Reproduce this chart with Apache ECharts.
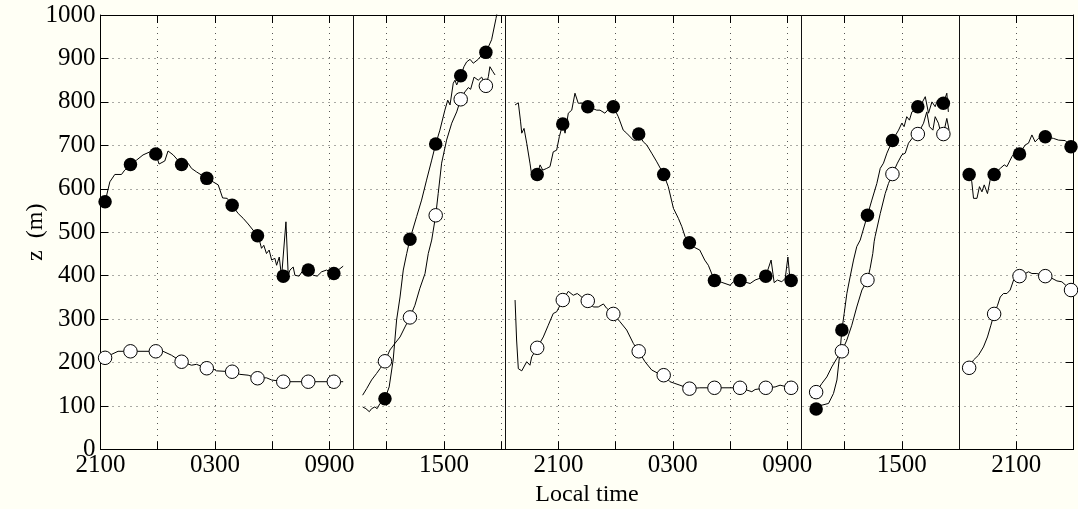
<!DOCTYPE html>
<html>
<head>
<meta charset="utf-8">
<script src="https://cdn.jsdelivr.net/npm/echarts@6/dist/echarts.min.js"></script>
<style>
  html, body { margin: 0; padding: 0; background: #fffff5; }
  #chart { width: 1078px; height: 509px; }
</style>
</head>
<body>
<div id="chart"></div>
<script>
// Time is in hours after 2100 local time on the first evening.
const timeLabels = ['2100', '0300', '0900', '1500', '2100', '0300', '0900', '1500', '2100'];
const dayBreaks = [13.25, 21.22, 36.71, 45.02];

// Segment 1: night
const traceHi1 = [[0.24,570],[0.49,616],[0.75,633],[1.10,633],[1.27,643],[1.57,656],[1.89,666],[2.23,678],[2.59,685],[2.90,680],[3.07,657],[3.37,664],[3.54,687],[3.81,678],[4.25,656],[4.59,659],[4.77,647],[5.03,639],[5.57,624],[5.90,616],[6.17,609],[6.40,579],[6.64,578],[6.90,562],[7.22,543],[7.48,532],[7.74,519],[8.23,492],[8.35,478],[8.44,463],[8.56,470],[8.70,451],[8.84,459],[8.97,436],[9.14,440],[9.23,424],[9.37,443],[9.49,397],[9.58,399],[9.72,524],[9.84,401],[9.93,413],[10.10,420],[10.19,401],[10.41,399],[10.62,413],[10.89,413],[11.15,401],[11.36,399],[11.59,409],[11.85,413],[12.23,405],[12.46,413],[12.72,422]];
const traceLo1 = [[0.24,211],[0.58,219],[0.92,226],[1.57,226],[1.90,226],[2.90,226],[3.28,226],[3.72,217],[4.25,202],[4.77,194],[5.03,196],[5.57,187],[5.90,186],[6.08,181],[6.90,179],[7.30,173],[7.74,171],[8.23,164],[8.70,165],[8.97,160],[9.58,156],[10.89,156],[12.23,156],[12.72,156]];
const markHours1 = [0.24, 1.57, 2.90, 4.25, 5.57, 6.90, 8.23, 9.58, 10.89, 12.23];
const markHi1 = [570, 656, 680, 656, 624, 562, 492, 399, 413, 405];
const markLo1 = [211, 226, 226, 202, 187, 179, 164, 156, 156, 156];

// Segment 2: morning growth
const traceHi2 = [[13.74,98],[13.91,94],[14.09,87],[14.21,94],[14.38,98],[14.50,94],[14.65,106],[14.91,117],[15.13,144],[15.34,206],[15.52,298],[15.70,351],[15.87,413],[16.05,451],[16.22,484],[16.57,536],[16.83,574],[17.09,620],[17.36,666],[17.57,703],[17.79,735],[18.05,781],[18.20,804],[18.32,793],[18.49,843],[18.58,850],[18.67,839],[18.88,860],[19.05,881],[19.19,892],[19.37,898],[19.54,889],[19.80,898],[19.98,908],[20.20,914],[20.50,943],[20.73,992],[20.83,1015]];
const traceLo2 = [[13.74,125],[13.95,140],[14.21,160],[14.47,175],[14.65,186],[14.91,203],[15.17,229],[15.43,244],[15.70,259],[15.96,282],[16.22,304],[16.48,332],[16.74,371],[17.01,405],[17.18,451],[17.36,482],[17.57,539],[17.70,589],[17.88,659],[18.14,712],[18.41,751],[18.67,777],[18.88,806],[19.10,823],[19.28,833],[19.40,829],[19.58,857],[19.80,850],[19.98,857],[20.20,837],[20.33,858],[20.41,881],[20.56,870],[20.68,862]];
const markHours2 = [14.91, 16.22, 17.57, 18.88, 20.20];
const markHi2 = [117, 484, 703, 860, 914];
const markLo2 = [203, 304, 539, 806, 837];

// Segment 3: evening to morning
const traceHi3 = [[21.73,793],[21.90,798],[22.02,754],[22.08,728],[22.20,739],[22.34,705],[22.51,659],[22.60,632],[22.89,633],[23.04,655],[23.18,643],[23.39,647],[23.56,651],[23.73,685],[23.91,689],[24.05,720],[24.23,749],[24.35,728],[24.52,774],[24.70,781],[24.87,820],[25.04,797],[25.31,797],[25.54,789],[26.01,781],[26.18,781],[26.44,774],[26.62,783],[26.88,789],[27.14,766],[27.40,735],[27.58,728],[27.93,712],[28.11,712],[28.21,726],[28.45,708],[28.63,701],[28.89,682],[29.16,662],[29.52,633],[29.76,605],[30.03,555],[30.29,532],[30.47,513],[30.64,490],[30.87,476],[31.14,465],[31.41,459],[31.67,436],[31.86,424],[32.18,389],[32.48,386],[33.00,378],[33.17,386],[33.52,389],[34.05,382],[34.31,390],[34.87,399],[35.15,436],[35.31,384],[35.48,390],[35.71,386],[35.89,394],[36.03,443],[36.15,386],[36.20,389],[36.41,397]];
const traceLo3 = [[21.73,344],[21.81,252],[21.90,186],[22.08,181],[22.34,202],[22.51,194],[22.60,213],[22.89,234],[23.21,259],[23.47,286],[23.73,313],[23.91,317],[24.23,344],[24.52,364],[24.78,355],[24.99,359],[25.22,351],[25.54,342],[25.83,328],[26.09,328],[26.36,335],[26.53,325],[26.88,312],[27.23,294],[27.58,275],[27.93,244],[28.21,226],[28.54,202],[28.89,183],[29.24,175],[29.52,171],[29.85,156],[30.11,152],[30.37,148],[30.87,140],[31.41,142],[32.18,142],[33.52,142],[34.14,133],[34.31,138],[34.87,142],[35.36,144],[35.62,148],[36.20,142],[36.50,144]];
const markHours3 = [22.89, 24.23, 25.54, 26.88, 28.21, 29.52, 30.87, 32.18, 33.52, 34.87, 36.20];
const markHi3 = [633, 749, 789, 789, 726, 633, 476, 389, 389, 399, 389];
const markLo3 = [234, 344, 342, 312, 226, 171, 140, 142, 142, 142, 142];

// Segment 4: second morning growth
const traceHi4 = [[37.51,93],[37.81,102],[38.16,106],[38.42,129],[38.60,160],[38.77,229],[38.86,275],[38.98,313],[39.12,359],[39.29,397],[39.47,436],[39.64,467],[39.82,482],[40.20,539],[40.43,574],[40.69,612],[40.87,647],[41.04,659],[41.22,682],[41.51,711],[41.83,735],[42.00,751],[42.12,743],[42.26,766],[42.40,758],[42.53,777],[42.84,789],[43.05,797],[43.23,812],[43.40,774],[43.58,800],[43.75,789],[43.87,804],[44.18,797],[44.36,820],[44.44,777]];
const traceLo4 = [[37.25,119],[37.51,132],[37.81,152],[38.07,167],[38.33,190],[38.60,210],[38.86,226],[39.12,252],[39.38,286],[39.64,328],[39.91,367],[40.20,390],[40.34,417],[40.48,451],[40.55,478],[40.60,490],[40.87,543],[41.13,589],[41.30,612],[41.51,634],[41.77,659],[42.00,678],[42.18,682],[42.35,705],[42.61,720],[42.84,726],[43.14,751],[43.31,777],[43.45,743],[43.63,735],[43.75,766],[43.92,751],[44.01,735],[44.18,726],[44.36,762],[44.48,735]];
const markHours4 = [37.51, 38.86, 40.20, 41.51, 42.84, 44.18];
const markHi4 = [93, 275, 539, 711, 789, 797];
const markLo4 = [132, 226, 390, 634, 726, 726];

// Segment 5: second evening
const traceHi5 = [[45.53,633],[45.67,616],[45.76,578],[45.94,578],[46.07,605],[46.20,593],[46.32,609],[46.49,589],[46.63,620],[46.84,633],[47.16,647],[47.37,655],[47.51,651],[47.77,674],[47.95,685],[48.17,680],[48.47,701],[48.64,705],[48.82,724],[48.99,708],[49.16,716],[49.52,720],[49.95,716],[50.22,712],[50.57,711],[50.87,697]];
const traceLo5 = [[45.53,188],[45.76,206],[46.02,217],[46.28,236],[46.49,259],[46.67,286],[46.84,312],[47.02,332],[47.16,351],[47.33,359],[47.51,359],[47.68,367],[47.86,390],[48.17,399],[48.47,405],[48.64,409],[48.82,405],[49.08,405],[49.52,399],[49.87,394],[50.13,388],[50.39,386],[50.87,367]];
const markHours5 = [45.53, 46.84, 48.17, 49.52, 50.87];
const markHi5 = [633, 633, 680, 720, 697];
const markLo5 = [188, 312, 399, 399, 367];

const segments = [
  { hi: traceHi1, lo: traceLo1, t: markHours1, mh: markHi1, ml: markLo1 },
  { hi: traceHi2, lo: traceLo2, t: markHours2, mh: markHi2, ml: markLo2 },
  { hi: traceHi3, lo: traceLo3, t: markHours3, mh: markHi3, ml: markLo3 },
  { hi: traceHi4, lo: traceLo4, t: markHours4, mh: markHi4, ml: markLo4 },
  { hi: traceHi5, lo: traceLo5, t: markHours5, mh: markHi5, ml: markLo5 }
];

const FONT = '"Liberation Serif", "DejaVu Serif", serif';
const INK = '#000';
const dotted = { type: [1, 5], color: '#555', width: 1 };

const series = [];
segments.forEach(function (s) {
  const lineBase = {
    type: 'line', showSymbol: false, symbol: 'none', silent: true,
    lineStyle: { color: INK, width: 1 }, z: 2, animation: false
  };
  series.push(Object.assign({}, lineBase, { data: s.hi }));
  series.push(Object.assign({}, lineBase, { data: s.lo }));
  series.push({
    type: 'scatter', silent: true, z: 4, symbol: 'circle', symbolSize: 13.5,
    itemStyle: { color: INK, opacity: 1 },
    data: s.t.map(function (h, i) { return [h, s.mh[i]]; })
  });
  series.push({
    type: 'scatter', silent: true, z: 3, symbol: 'circle', symbolSize: 13.5,
    itemStyle: { color: '#fff', borderColor: INK, borderWidth: 1, opacity: 1 },
    data: s.t.map(function (h, i) { return [h, s.ml[i]]; })
  });
});

// Solid separators between the observation days
series[0].markLine = {
  silent: true, symbol: 'none', animation: false,
  label: { show: false },
  lineStyle: { color: '#111', width: 1, type: 'solid' },
  data: dayBreaks.map(function (h) { return { xAxis: h }; })
};

const tickStyle = { inside: true, length: 8, lineStyle: { color: INK, width: 1 } };
const axisLineStyle = { show: true, onZero: false, lineStyle: { color: INK, width: 1 } };

const option = {
  backgroundColor: '#fffff5',
  animation: false,
  grid: { left: 100.5, right: 4.5, top: 15, bottom: 59.5, containLabel: false, outerBoundsMode: 'none' },
  xAxis: [
    {
      type: 'value', position: 'bottom', min: 0, max: 51, interval: 3,
      axisLine: axisLineStyle, axisTick: tickStyle,
      axisLabel: {
        color: INK, fontFamily: FONT, fontSize: 25, margin: 3,
        formatter: function (v) { return v % 6 === 0 ? timeLabels[v / 6] : ''; }
      },
      splitLine: { show: true, lineStyle: dotted },
      name: 'Local time', nameLocation: 'middle', nameGap: 33,
      nameTextStyle: { color: INK, fontFamily: FONT, fontSize: 24 }
    },
    {
      type: 'value', position: 'top', min: 0, max: 51, interval: 3,
      axisLine: axisLineStyle, axisTick: tickStyle,
      axisLabel: { show: false }, splitLine: { show: false }
    }
  ],
  yAxis: [
    {
      type: 'value', position: 'left', min: 0, max: 1000, interval: 100,
      axisLine: axisLineStyle, axisTick: tickStyle,
      axisLabel: {
        color: INK, fontFamily: FONT, fontSize: 25, margin: 5,
        formatter: function (v) { return String(v); }
      },
      splitLine: { show: true, lineStyle: dotted },
      name: 'z  (m)', nameLocation: 'middle', nameGap: 53, nameRotate: 90,
      nameMoveOverlap: false,
      nameTextStyle: { color: INK, fontFamily: FONT, fontSize: 24 }
    },
    {
      type: 'value', position: 'right', min: 0, max: 1000, interval: 100,
      axisLine: axisLineStyle, axisTick: tickStyle,
      axisLabel: { show: false }, splitLine: { show: false }
    }
  ],
  series: series
};

const chart = echarts.init(document.getElementById('chart'), null, { renderer: 'canvas' });
chart.setOption(option);
</script>
</body>
</html>
